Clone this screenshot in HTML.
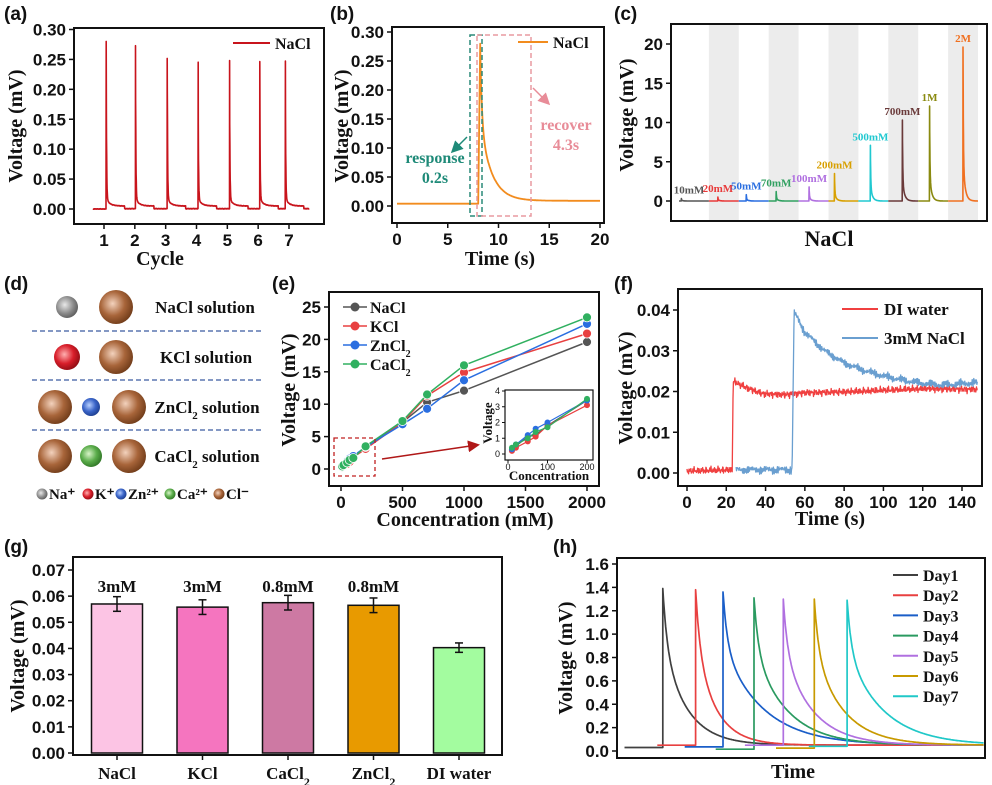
<!DOCTYPE html>
<html><head><meta charset="utf-8">
<style>
html,body{margin:0;padding:0;background:#fff;}
svg{display:block;}
.tk{font-family:"Liberation Sans",Arial,sans-serif;font-weight:bold;font-size:17px;fill:#111;}
.tt{font-family:"Liberation Serif","Times New Roman",serif;font-weight:bold;font-size:20px;fill:#111;}
.lg{font-family:"Liberation Serif","Times New Roman",serif;font-weight:bold;font-size:15px;fill:#111;}
.pl{font-family:"Liberation Sans",Arial,sans-serif;font-weight:bold;font-size:19px;fill:#111;}
</style></head>
<body>
<svg id="fig" width="992" height="785" viewBox="0 0 992 785" xmlns="http://www.w3.org/2000/svg">
<defs>
<radialGradient id="gBrown" cx="40%" cy="40%" r="65%"><stop offset="0" stop-color="#f3d2bd"/><stop offset="0.55" stop-color="#a8653a"/><stop offset="1" stop-color="#6e3a18"/></radialGradient>
<radialGradient id="gGray" cx="40%" cy="40%" r="65%"><stop offset="0" stop-color="#e8e8e8"/><stop offset="0.6" stop-color="#8c8c8c"/><stop offset="1" stop-color="#5a5a5a"/></radialGradient>
<radialGradient id="gRed" cx="40%" cy="40%" r="65%"><stop offset="0" stop-color="#ffb0b0"/><stop offset="0.55" stop-color="#d81e2a"/><stop offset="1" stop-color="#8c0c12"/></radialGradient>
<radialGradient id="gBlue" cx="40%" cy="40%" r="65%"><stop offset="0" stop-color="#b8d0ff"/><stop offset="0.55" stop-color="#3a64c8"/><stop offset="1" stop-color="#1c3c8c"/></radialGradient>
<radialGradient id="gGreen" cx="40%" cy="40%" r="65%"><stop offset="0" stop-color="#d8f4c8"/><stop offset="0.55" stop-color="#5aac4a"/><stop offset="1" stop-color="#2e7424"/></radialGradient>
<marker id="arG" markerWidth="8" markerHeight="8" refX="6" refY="4" orient="auto"><path d="M0,0 L8,4 L0,8 z" fill="#1e8a78"/></marker>
<marker id="arP" markerWidth="8" markerHeight="8" refX="6" refY="4" orient="auto"><path d="M0,0 L8,4 L0,8 z" fill="#e88c98"/></marker>
<marker id="arR" markerWidth="8" markerHeight="8" refX="6" refY="4" orient="auto"><path d="M0,0 L8,4 L0,8 z" fill="#b01818"/></marker>
</defs>
</svg>
<script>
// ---------- data ----------
// (a)
const aCyclePos = [1.07, 2.02, 3.05, 4.05, 5.07, 6.05, 6.88];
const aPeaks = [0.280, 0.273, 0.252, 0.245, 0.248, 0.246, 0.247];
const aYTicks = [0, 0.05, 0.10, 0.15, 0.20, 0.25, 0.30];
const aXTicks = [1, 2, 3, 4, 5, 6, 7];
// (b)
const bPeakTime = [8.0];
const bPeak = [0.28];
const bXTicks = [0, 5, 10, 15, 20];
const bYTicks = [0, 0.05, 0.10, 0.15, 0.20, 0.25, 0.30];
// (c)
const cLabels = ['10mM','20mM','50mM','70mM','100mM','200mM','500mM','700mM','1M','2M'];
const cPeaks = [0.3, 0.5, 0.8, 1.2, 1.8, 3.5, 7.1, 10.3, 12.1, 19.6];
const cPeakFrac = [0.08, 0.3, 0.25, 0.25, 0.35, 0.2, 0.4, 0.47, 0.38, 0.5];
const cColors = ['#555555','#e83a3a','#2a6ee0','#30a060','#b070e0','#d8a000','#20c8d0','#6a3a3a','#8a8a10','#f07020'];
const cYTicks = [0, 5, 10, 15, 20];
// (e)
const eConc = [10, 20, 50, 70, 100, 200, 500, 700, 1000, 2000];
const eNaCl = [0.3, 0.5, 1.1, 1.2, 1.8, 3.4, 7.2, 10.3, 12.1, 19.6];
const eKCl = [0.2, 0.4, 0.8, 1.1, 1.8, 3.1, 7.2, 11.3, 14.9, 20.9];
const eZnCl2 = [0.3, 0.6, 1.2, 1.6, 2.0, 3.4, 6.9, 9.3, 13.7, 22.4];
const eCaCl2 = [0.4, 0.6, 1.0, 1.4, 1.7, 3.5, 7.4, 11.5, 16.0, 23.4];
const eXTicks = [0, 500, 1000, 1500, 2000];
const eYTicks = [0, 5, 10, 15, 20, 25];
// (f)
const fDITimes = [0, 23, 23.5, 30, 38, 50, 60, 80, 100, 120, 148];
const fDIVals = [0.0005, 0.0008, 0.0225, 0.021, 0.0195, 0.0192, 0.0197, 0.0199, 0.0203, 0.0207, 0.0205];
const fNaTimes = [25, 53.5, 54.5, 60, 70, 80, 90, 100, 110, 120, 130, 148];
const fNaVals = [0.0008, 0.0008, 0.0395, 0.0345, 0.030, 0.027, 0.0252, 0.0238, 0.0228, 0.0220, 0.0216, 0.0222];
const fXTicks = [0, 20, 40, 60, 80, 100, 120, 140];
const fYTicks = [0, 0.01, 0.02, 0.03, 0.04];
// (g)
const gCats = ['NaCl','KCl','CaCl2','ZnCl2','DI water'];
const gVals = [0.0570, 0.0558, 0.0575, 0.0565, 0.0403];
const gErr = [0.0028, 0.0028, 0.0028, 0.0028, 0.0018];
const gNotes = ['3mM','3mM','0.8mM','0.8mM',''];
const gYTicks = [0, 0.01, 0.02, 0.03, 0.04, 0.05, 0.06, 0.07];
// (h)
const hDays = ['Day1','Day2','Day3','Day4','Day5','Day6','Day7'];
const hPeaks = [1.39, 1.38, 1.36, 1.31, 1.30, 1.30, 1.29];
const hPeakTime = [12, 21, 28.5, 37, 45, 53.5, 62.5];
const hBase = [0.03, 0.05, 0.035, 0.015, 0.05, 0.025, 0.04];
const hTau = [6.5, 5.5, 11, 9, 8, 8, 10];
const hYTicks = [0, 0.2, 0.4, 0.6, 0.8, 1.0, 1.2, 1.4, 1.6];

// ---------- helpers ----------
const NS = 'http://www.w3.org/2000/svg';
const S = document.getElementById('fig');
function mk(tag, attrs, name, parent) {
  const e = document.createElementNS(NS, tag);
  for (const k in attrs) e.setAttribute(k, attrs[k]);
  
  
  (parent || S).appendChild(e);
  return e;
}
function tx(x, y, s, cls, name, extra) {
  const a = Object.assign({x: x, y: y, class: cls}, extra || {});
  const e = mk('text', a, name);
  e.textContent = s;
  return e;
}
function lin(d0, d1, r0, r1) { return v => r0 + (v - d0) * (r1 - r0) / (d1 - d0); }
function frame(x0, y0, x1, y1, name) {
  mk('rect', {x: x0, y: y0, width: x1 - x0, height: y1 - y0, fill: 'none', stroke: '#111', 'stroke-width': 2}, name);
}
function yAxis(x0, ticks, fy, fmt, name, cls) {
  ticks.forEach(v => {
    mk('line', {x1: x0 - 5, x2: x0, y1: fy(v), y2: fy(v), stroke: '#111', 'stroke-width': 1.5}, name + '-tick');
    tx(x0 - 8, fy(v) + 6, fmt(v), cls || 'tk', name + '-label', {'text-anchor': 'end'});
  });
}
function xAxis(y0, ticks, fx, fmt, name, cls, dy) {
  ticks.forEach(v => {
    mk('line', {x1: fx(v), x2: fx(v), y1: y0, y2: y0 + 5, stroke: '#111', 'stroke-width': 1.5}, name + '-tick');
    tx(fx(v), y0 + (dy || 22), fmt(v), cls || 'tk', name + '-label', {'text-anchor': 'middle'});
  });
}
function ytitle(x, y, s, name) {
  tx(x, y, s, 'tt', name, {'text-anchor': 'middle', transform: 'rotate(-90 ' + x + ' ' + y + ')'});
}
function path(pts, color, name, w) {
  const d = pts.map((p, i) => (i ? 'L' : 'M') + p[0].toFixed(1) + ',' + p[1].toFixed(1)).join('');
  return mk('path', {d: d, fill: 'none', stroke: color, 'stroke-width': w || 1.6, 'stroke-linejoin': 'round'}, name);
}
function jit(t, a) { return a * (Math.sin(t * 7.3) * 0.4 + Math.sin(t * 19.1 + 1) * 0.3 + Math.sin(t * 41.7 + 2) * 0.3 + Math.sin(t * 97.3 + 3) * 0.3); }
function interp(ts, vs, t) {
  for (let i = 1; i < ts.length; i++) if (t <= ts[i]) return vs[i - 1] + (vs[i] - vs[i - 1]) * (t - ts[i - 1]) / (ts[i] - ts[i - 1]);
  return vs[vs.length - 1];
}
const f2 = v => v.toFixed(2), f0 = v => String(v);

// ---------- panel labels ----------
[['(a)',4,20],['(b)',330,20],['(c)',614,20],['(d)',4,290],['(e)',272,290],['(f)',614,290],['(g)',4,553],['(h)',553,553]]
  .forEach(p => tx(p[1], p[2], p[0], 'pl', 'panel-label'));

// ---------- (a) ----------
(function () {
  const fx = lin(1, 7, 104, 289), fy = lin(0, 0.3, 209, 29.5);
  frame(74, 28, 324, 224, 'panel-a-frame');
  yAxis(74, aYTicks, fy, f2, 'a-y');
  xAxis(224, aXTicks, fx, f0, 'a-x');
  ytitle(22, 126, 'Voltage (mV)', 'a-y-title');
  tx(160, 265, 'Cycle', 'tt', 'a-x-title', {'text-anchor': 'middle'});
  const pts = [];
  for (let t = 0.65; t <= 7.65; t += 0.004) {
    let v = 0, k = -1;
    aCyclePos.forEach((p, i) => { if (t >= p) k = i; });
    if (k >= 0) {
      const dt = t - aCyclePos[k];
      if (dt < 0.6) v = aPeaks[k] * Math.exp(-dt / 0.012) + 0.012 * Math.exp(-dt / 0.12) + 0.005;
      else v = 0.0005;
    }
    if (k >= 0 && t - aCyclePos[k] < 0.004) v = aPeaks[k];
    pts.push([fx(t), fy(v + jit(t * 10, 0.0004))]);
  }
  path(pts, '#c8141c', 'a-nacl-line', 1.6);
  mk('line', {x1: 233, x2: 270, y1: 43, y2: 43, stroke: '#c8141c', 'stroke-width': 2}, 'a-legend-line');
  tx(275, 49, 'NaCl', 'lg', 'a-legend-text', {style: 'font-size:16px'});
})();

// ---------- (b) ----------
(function () {
  const fx = lin(0, 20, 397, 600), fy = lin(0, 0.3, 206, 32);
  frame(392, 27, 604, 223, 'panel-b-frame');
  yAxis(392, bYTicks, fy, f2, 'b-y');
  xAxis(223, bXTicks, fx, f0, 'b-x');
  ytitle(348, 126, 'Voltage (mV)', 'b-y-title');
  tx(500, 265, 'Time (s)', 'tt', 'b-x-title', {'text-anchor': 'middle'});
  const tp = bPeakTime[0] + 0.2, pts = [];
  for (let t = 0; t <= 20; t += 0.02) {
    let v;
    if (t < bPeakTime[0]) v = 0.004;
    else if (t < tp) v = 0.004 + (bPeak[0] - 0.004) * (t - bPeakTime[0]) / 0.2;
    else { const dt = t - tp; v = 0.009 + (bPeak[0] - 0.009) * (0.5 * Math.exp(-dt / 0.15) + 0.5 * Math.exp(-dt / 1.1)); }
    pts.push([fx(t), fy(v)]);
  }
  path(pts, '#f28c1e', 'b-nacl-line', 1.8);
  mk('rect', {x: 470, y: 35, width: 12, height: 181, fill: 'none', stroke: '#2a8a78', 'stroke-width': 1.5, 'stroke-dasharray': '5,3'}, 'b-response-box');
  mk('rect', {x: 477, y: 35, width: 54, height: 181, fill: 'none', stroke: '#e89aa0', 'stroke-width': 1.5, 'stroke-dasharray': '5,3'}, 'b-recover-box');
  mk('line', {x1: 467, y1: 137, x2: 453, y2: 151, stroke: '#1e8a78', 'stroke-width': 1.5, 'marker-end': 'url(#arG)'}, 'b-response-arrow');
  mk('line', {x1: 533, y1: 88, x2: 548, y2: 103, stroke: '#e88c98', 'stroke-width': 1.5, 'marker-end': 'url(#arP)'}, 'b-recover-arrow');
  tx(435, 163, 'response', 'lg', 'b-response-text', {'text-anchor': 'middle', style: 'fill:#1e8a78;font-size:16px'});
  tx(435, 183, '0.2s', 'lg', 'b-response-time', {'text-anchor': 'middle', style: 'fill:#1e8a78;font-size:16px'});
  tx(566, 130, 'recover', 'lg', 'b-recover-text', {'text-anchor': 'middle', style: 'fill:#e88c98;font-size:16px'});
  tx(566, 150, '4.3s', 'lg', 'b-recover-time', {'text-anchor': 'middle', style: 'fill:#e88c98;font-size:16px'});
  mk('line', {x1: 518, x2: 548, y1: 42, y2: 42, stroke: '#f28c1e', 'stroke-width': 2}, 'b-legend-line');
  tx(553, 48, 'NaCl', 'lg', 'b-legend-text', {style: 'font-size:16px'});
})();

// ---------- (c) ----------
(function () {
  const fy = lin(0, 20, 201, 44), x0 = 679, w = 29.9;
  for (let i = 0; i < 10; i++) if (i % 2 === 1)
    mk('rect', {x: x0 + i * w, y: 25, width: w, height: 195, fill: '#ececec'}, 'c-shade-band');
  frame(671, 24, 987, 221, 'panel-c-frame');
  yAxis(671, cYTicks, fy, f0, 'c-y');
  ytitle(633, 115, 'Voltage (mV)', 'c-y-title');
  tx(829, 246, 'NaCl', 'tt', 'c-x-title', {'text-anchor': 'middle', style: 'font-size:22px'});
  cPeaks.forEach((h, i) => {
    const pts = [];
    for (let t = 0; t <= 1.0001; t += 0.005) {
      const dt = t - cPeakFrac[i];
      let v = 0;
      if (dt >= 0) v = h * (0.75 * Math.exp(-dt / 0.012) + 0.25 * Math.exp(-dt / 0.07));
      pts.push([x0 + (i + t) * w, fy(v)]);
    }
    path(pts, cColors[i], 'c-peak-' + cLabels[i], 1.6);
    const lx = i === 0 ? x0 + 10 : x0 + (i + cPeakFrac[i]) * w;
    tx(lx, fy(h) - 5, cLabels[i], 'lg', 'c-peak-label', {'text-anchor': 'middle', style: 'font-size:11px;fill:' + cColors[i]});
  });
})();

// ---------- (d) ----------
(function () {
  const balls = [
    [67, 307, 11, 'gGray'], [116, 307, 17, 'gBrown'],
    [67, 357, 13, 'gRed'], [116, 357, 17, 'gBrown'],
    [55, 407, 17, 'gBrown'], [91, 407, 9, 'gBlue'], [129, 407, 17, 'gBrown'],
    [55, 456, 17, 'gBrown'], [91, 456, 11, 'gGreen'], [129, 456, 17, 'gBrown']
  ];
  balls.forEach(b => mk('circle', {cx: b[0], cy: b[1], r: b[2], fill: 'url(#' + b[3] + ')'}, 'd-ion-sphere'));
  [331, 380, 430].forEach(y => mk('line', {x1: 32, x2: 262, y1: y, y2: y, stroke: '#3a5aa0', 'stroke-width': 1.3, 'stroke-dasharray': '5,3'}, 'd-divider'));
  const lab = [[205, 313, 'NaCl solution'], [206, 363, 'KCl solution'], [207, 413, 'ZnCl<tspan baseline-shift="sub" font-size="11">2</tspan> solution'], [207, 462, 'CaCl<tspan baseline-shift="sub" font-size="11">2</tspan> solution']];
  lab.forEach(l => { const e = tx(l[0], l[1], '', 'lg', 'd-solution-label', {'text-anchor': 'middle', style: 'font-size:17px'}); e.innerHTML = l[2]; });
  const leg = [[42, 'gGray', 'Na⁺'], [88, 'gRed', 'K⁺'], [121, 'gBlue', 'Zn²⁺'], [170, 'gGreen', 'Ca²⁺'], [219, 'gBrown', 'Cl⁻']];
  leg.forEach(l => {
    mk('circle', {cx: l[0], cy: 494, r: 5.5, fill: 'url(#' + l[1] + ')'}, 'd-legend-marker');
    tx(l[0] + 7, 499, l[2], 'lg', 'd-legend-text', {style: 'font-size:15px'});
  });
})();

// ---------- (e) ----------
(function () {
  const fx = lin(0, 2000, 341, 587), fy = lin(0, 25, 469, 307);
  frame(329, 292, 599, 486, 'panel-e-frame');
  yAxis(329, eYTicks, fy, f0, 'e-y');
  xAxis(486, eXTicks, fx, f0, 'e-x');
  ytitle(295, 390, 'Voltage (mV)', 'e-y-title');
  tx(465, 526, 'Concentration (mM)', 'tt', 'e-x-title', {'text-anchor': 'middle'});
  const series = [['NaCl', eNaCl, '#555555'], ['KCl', eKCl, '#e84040'], ['ZnCl2', eZnCl2, '#2a6ee0'], ['CaCl2', eCaCl2, '#30b060']];
  series.forEach(s => {
    path(eConc.map((c, i) => [fx(c), fy(s[1][i])]), s[2], 'e-line-' + s[0], 1.5);
    eConc.forEach((c, i) => mk('circle', {cx: fx(c), cy: fy(s[1][i]), r: 4.5, fill: s[2], stroke: '#fff', 'stroke-width': 0.8}, 'e-point-' + s[0]));
  });
  series.forEach((s, i) => {
    const y = 307 + i * 19;
    mk('line', {x1: 343, x2: 367, y1: y, y2: y, stroke: s[2], 'stroke-width': 1.5}, 'e-legend-line');
    mk('circle', {cx: 355, cy: y, r: 4.5, fill: s[2]}, 'e-legend-marker');
    const t = tx(370, y + 6, '', 'lg', 'e-legend-text', {style: 'font-size:16px'});
    t.innerHTML = s[0].replace('2', '<tspan baseline-shift="sub" font-size="10">2</tspan>');
  });
  mk('rect', {x: 334, y: 438, width: 41, height: 38, fill: 'none', stroke: '#c02020', 'stroke-width': 1.3, 'stroke-dasharray': '4,3'}, 'e-zoom-box');
  mk('line', {x1: 382, y1: 459, x2: 477, y2: 445, stroke: '#b01818', 'stroke-width': 1.5, 'marker-end': 'url(#arR)'}, 'e-zoom-arrow');
  // inset
  const ix = lin(0, 200, 508, 587), iy = lin(0, 4, 454, 391);
  mk('rect', {x: 505, y: 390, width: 88, height: 70, fill: '#fff', stroke: '#111', 'stroke-width': 1.2}, 'e-inset-frame');
  [0, 1, 2, 3, 4].forEach(v => {
    mk('line', {x1: 502, x2: 505, y1: iy(v), y2: iy(v), stroke: '#111'}, 'e-inset-y-tick');
    tx(500, iy(v) + 3, String(v), 'tk', 'e-inset-y-label', {'text-anchor': 'end', style: 'font-size:9px;font-weight:normal'});
  });
  [0, 100, 200].forEach(v => {
    mk('line', {x1: ix(v), x2: ix(v), y1: 460, y2: 463, stroke: '#111'}, 'e-inset-x-tick');
    tx(ix(v), 470, String(v), 'tk', 'e-inset-x-label', {'text-anchor': 'middle', style: 'font-size:9px;font-weight:normal'});
  });
  series.forEach(s => {
    const idx = eConc.map((c, i) => i).filter(i => eConc[i] <= 200);
    path(idx.map(i => [ix(eConc[i]), iy(s[1][i])]), s[2], 'e-inset-line-' + s[0], 1.2);
    idx.forEach(i => mk('circle', {cx: ix(eConc[i]), cy: iy(s[1][i]), r: 3, fill: s[2]}, 'e-inset-point-' + s[0]));
  });
  tx(492, 423, 'Voltage', 'lg', 'e-inset-y-title', {'text-anchor': 'middle', style: 'font-size:13px', transform: 'rotate(-90 492 423)'});
  tx(549, 480, 'Concentration', 'lg', 'e-inset-x-title', {'text-anchor': 'middle', style: 'font-size:13px'});
})();

// ---------- (f) ----------
(function () {
  const fx = lin(0, 140, 687, 962), fy = lin(0, 0.04, 473, 310);
  frame(678, 289, 982, 486, 'panel-f-frame');
  yAxis(678, fYTicks, fy, f2, 'f-y');
  xAxis(486, fXTicks, fx, f0, 'f-x');
  ytitle(632, 388, 'Voltage (mV)', 'f-y-title');
  tx(830, 525, 'Time (s)', 'tt', 'f-x-title', {'text-anchor': 'middle'});
  const di = [];
  for (let t = fDITimes[0]; t <= 148; t += 0.2) di.push([fx(t), fy(interp(fDITimes, fDIVals, t) + jit(t, 0.0009))]);
  path(di, '#f04040', 'f-di-water-line', 1.3);
  const na = [];
  for (let t = fNaTimes[0]; t <= 148; t += 0.2) na.push([fx(t), fy(interp(fNaTimes, fNaVals, t) + jit(t * 1.3 + 5, 0.001))]);
  path(na, '#6a9fd0', 'f-nacl-line', 1.3);
  mk('line', {x1: 842, x2: 878, y1: 309, y2: 309, stroke: '#f04040', 'stroke-width': 2}, 'f-legend-line');
  tx(884, 315, 'DI water', 'lg', 'f-legend-text', {style: 'font-size:17px'});
  mk('line', {x1: 842, x2: 878, y1: 338, y2: 338, stroke: '#6a9fd0', 'stroke-width': 2}, 'f-legend-line');
  tx(884, 344, '3mM NaCl', 'lg', 'f-legend-text', {style: 'font-size:17px'});
})();

// ---------- (g) ----------
(function () {
  const fy = lin(0, 0.07, 753, 570), cx0 = 117, step = 85.5, bw = 51;
  const colors = ['#fcc4e4', '#f575bf', '#cd79a3', '#e89a00', '#a3fc9f'];
  frame(73, 557, 502, 755, 'panel-g-frame');
  yAxis(73, gYTicks, fy, f2, 'g-y');
  ytitle(24, 656, 'Voltage (mV)', 'g-y-title');
  gVals.forEach((v, i) => {
    const cx = cx0 + i * step;
    mk('rect', {x: cx - bw / 2, y: fy(v), width: bw, height: fy(0) - fy(v), fill: colors[i], stroke: '#111', 'stroke-width': 1.5}, 'g-bar-' + gCats[i]);
    const t = fy(v + gErr[i]), b = fy(v - gErr[i]);
    mk('line', {x1: cx, x2: cx, y1: t, y2: b, stroke: '#111', 'stroke-width': 1.5}, 'g-error-bar');
    mk('line', {x1: cx - 4, x2: cx + 4, y1: t, y2: t, stroke: '#111', 'stroke-width': 1.5}, 'g-error-cap');
    mk('line', {x1: cx - 4, x2: cx + 4, y1: b, y2: b, stroke: '#111', 'stroke-width': 1.5}, 'g-error-cap');
    if (gNotes[i]) tx(cx, 592, gNotes[i], 'lg', 'g-bar-note', {'text-anchor': 'middle', style: 'font-size:17px'});
    mk('line', {x1: cx, x2: cx, y1: 755, y2: 760, stroke: '#111', 'stroke-width': 1.5}, 'g-x-tick');
    const l = tx(cx, 779, '', 'lg', 'g-x-label', {'text-anchor': 'middle', style: 'font-size:17px'});
    l.innerHTML = gCats[i].replace('Cl2', 'Cl<tspan baseline-shift="sub" font-size="12">2</tspan>');
  });
})();

// ---------- (h) ----------
(function () {
  const fx = lin(0, 100, 619, 984), fy = lin(0, 1.6, 751, 564);
  const colors = ['#404040', '#e84040', '#1a5ec8', '#2a9a60', '#b070e0', '#c89a00', '#20c8c8'];
  frame(617, 558, 985, 758, 'panel-h-frame');
  yAxis(617, hYTicks, fy, v => v.toFixed(1), 'h-y');
  ytitle(572, 658, 'Voltage (mV)', 'h-y-title');
  tx(793, 778, 'Time', 'tt', 'h-x-title', {'text-anchor': 'middle'});
  hPeaks.forEach((h, i) => {
    const tp = hPeakTime[i], pts = [[fx(tp - 10.5), fy(hBase[i])], [fx(tp), fy(hBase[i])]];
    for (let t = tp; t <= 100; t += 0.2) {
      const dt = t - tp;
      pts.push([fx(t), fy(0.05 + (h - 0.05) * (0.35 * Math.exp(-dt / 1.2) + 0.65 * Math.exp(-dt / hTau[i])))]);
    }
    path(pts, colors[i], 'h-line-' + hDays[i], 1.7);
    const y = 575 + i * 20.2;
    mk('line', {x1: 893, x2: 918, y1: y, y2: y, stroke: colors[i], 'stroke-width': 2}, 'h-legend-line');
    tx(923, y + 6, hDays[i], 'lg', 'h-legend-text', {style: 'font-size:16px'});
  });
})();
</script>
</body></html>
